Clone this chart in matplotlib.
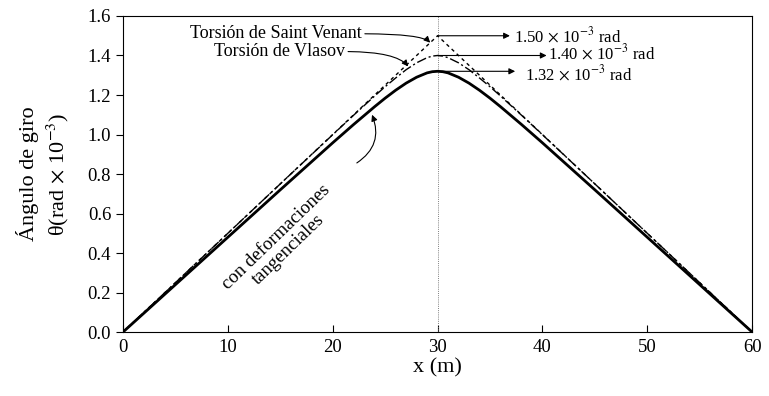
import matplotlib.pyplot as plt

plt.rcParams['font.family'] = ['Liberation Serif', 'DejaVu Serif']
plt.rcParams['mathtext.fontset'] = 'stix'

# Saint Venant (linear)
x_sv = [0, 30, 60]
y_sv = [0.0, 1.50, 0.0]

# Vlasov
x_vl = [0, 5, 10, 15, 20, 22, 24, 25, 26, 27, 28, 29, 29.5, 30,
        30.5, 31, 32, 33, 34, 35, 36, 38, 40, 45, 50, 55, 60]
y_vl = [0.0, 0.25, 0.50, 0.75, 0.999, 1.098, 1.195, 1.242, 1.286, 1.328, 1.363, 1.389, 1.397, 1.40,
        1.397, 1.389, 1.363, 1.328, 1.286, 1.242, 1.195, 1.098, 0.999, 0.75, 0.50, 0.25, 0.0]

# con deformaciones tangenciales
x_tg = [0, 5, 10, 15, 20, 22, 24, 25, 26, 27, 28, 29, 29.5, 30,
        30.5, 31, 32, 33, 34, 35, 36, 38, 40, 45, 50, 55, 60]
y_tg = [0.0, 0.24, 0.48, 0.72, 0.958, 1.051, 1.141, 1.184, 1.224, 1.260, 1.290, 1.312, 1.318, 1.32,
        1.318, 1.312, 1.290, 1.260, 1.224, 1.184, 1.141, 1.051, 0.958, 0.72, 0.48, 0.24, 0.0]

fig = plt.figure(figsize=(7.69, 3.96), dpi=100)
ax = fig.add_axes([0.16, 0.1616, 0.818, 0.798])

ax.axvline(30, color='gray', lw=0.7, ls=(0, (1, 1.2)))
ax.plot(x_sv, y_sv, color='black', lw=1.0, ls=(0, (2.5, 2.5)))
ax.plot(x_vl, y_vl, color='black', lw=1.0, ls=(0, (7, 2, 1.5, 2)))
ax.plot(x_tg, y_tg, color='black', lw=2.0)

ax.set_xlim(0, 60)
ax.set_ylim(0, 1.6)
ax.set_xticks(range(0, 61, 10))
ax.set_yticks([0.0, 0.2, 0.4, 0.6, 0.8, 1.0, 1.2, 1.4, 1.6])
ax.set_yticklabels(['%.1f' % v for v in ax.get_yticks()])
ax.tick_params(axis='y', direction='out', labelsize=13.5, length=5)
ax.tick_params(axis='x', direction='in', labelsize=13.5, length=5, pad=5)
ax.set_xlabel('x (m)', fontsize=16, labelpad=2)
ax.set_ylabel('Ángulo de giro\n' + r'θ(rad$\,\times\,$10$^{-3}$)', fontsize=16,
              linespacing=1.3, labelpad=12)

arrow = dict(arrowstyle='-|>', color='black', lw=0.8, mutation_scale=9, shrinkA=0, shrinkB=0)

# curved labels
ax.annotate('Torsión de Saint Venant', xy=(29.3, 1.465), xytext=(22.8, 1.51),
            ha='right', va='center', fontsize=13,
            arrowprops=dict(arrow, relpos=(1, 0.5), connectionstyle='angle3,angleA=0,angleB=135'))
ax.annotate('Torsión de Vlasov', xy=(27.2, 1.345), xytext=(21.2, 1.42),
            ha='right', va='center', fontsize=13,
            arrowprops=dict(arrow, relpos=(1, 0.5), connectionstyle='angle3,angleA=0,angleB=130'))

# peak values
peaks = [1.50, 1.40, 1.32]
tips = [36.9, 40.4, 37.4]
text_x = [37.3, 40.5, 38.3]
text_dy = [0.0, 0.012, -0.012]
labels = [r'1.50$\,\times\,$10$^{-3}$ rad', r'1.40$\,\times\,$10$^{-3}$ rad',
          r'1.32$\,\times\,$10$^{-3}$ rad']
for v, t, tx, dy, lab in zip(peaks, tips, text_x, text_dy, labels):
    ax.annotate('', xy=(t, v), xytext=(30, v), arrowprops=arrow)
    ax.text(tx, v + dy, lab, ha='left', va='center', fontsize=12)

ax.annotate('', xy=(23.75, 1.10), xytext=(22.3, 0.856),
            arrowprops=dict(arrow, connectionstyle='arc3,rad=0.4'))
ax.text(15.2, 0.45, 'con deformaciones\ntangenciales', rotation=44, fontsize=13.5,
        ha='center', va='center', linespacing=1.0, rotation_mode='anchor')

fig.savefig('out.png', dpi=100)
